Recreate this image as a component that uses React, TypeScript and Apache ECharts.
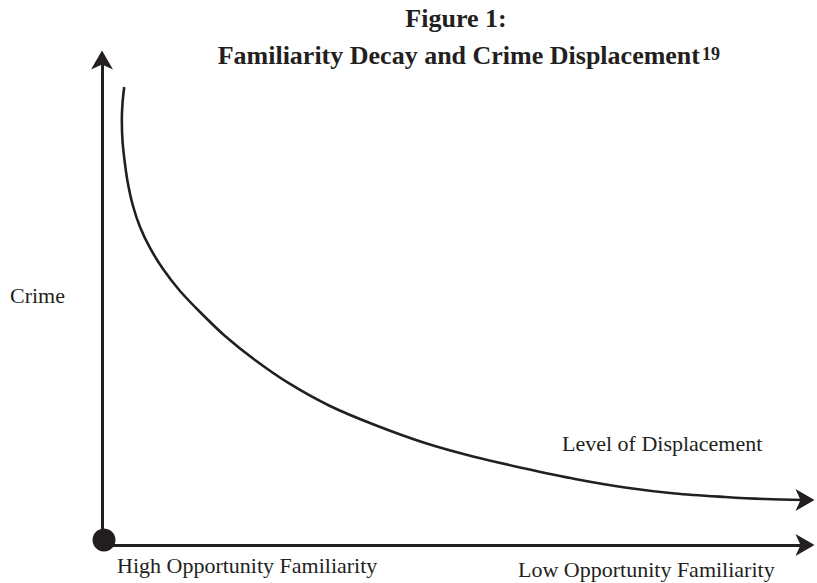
import React, { useEffect, useRef } from "react";
import * as echarts from "echarts";

// Curve (Level of Displacement), axis units 0..100
const curveX = [3.16, 2.92, 2.82, 2.93, 3.27, 3.7, 4.41, 5.41, 6.83, 8.68, 11.1, 13.94, 17.5, 21.76, 26.74, 32.43, 38.83, 45.95, 53.06, 60.17, 67.28, 74.4, 81.51, 88.62, 94.31, 100];
const curveY = [94.43, 91.13, 87.63, 83.09, 78.56, 74.43, 69.9, 65.57, 61.24, 56.91, 52.37, 48.04, 43.09, 38.14, 33.2, 28.66, 24.74, 21.03, 18.14, 15.77, 13.61, 11.86, 10.62, 9.9, 9.48, 9.28];
const origin = [0, 0];

const titleLine1 = "Figure 1:";
const titleLine2 = "Familiarity Decay and Crime Displacement";
const titleNote = "19";
const yLabel = "Crime";
const curveLabel = "Level of Displacement";
const xLabelLeft = "High Opportunity Familiarity";
const xLabelRight = "Low Opportunity Familiarity";

const INK = "#231f20";
const FONT = "'Liberation Serif', 'Times New Roman', serif";
const ARROW_UP = "path://M11,0 L22,19 L11,14 L0,19 Z";
const ARROW_RIGHT = "path://M0,0 L19,11 L0,22 L5,11 Z";

export default function App() {
  const ref = useRef<HTMLDivElement>(null);
  useEffect(() => {
    if (!ref.current) return;
    const chart = echarts.init(ref.current, undefined, { renderer: "svg" });
    const curveData = curveX.map((x, i) => [x, curveY[i]]);
    const last = curveData[curveData.length - 1];
    const axisCommon = {
      type: "value" as const,
      min: 0,
      max: 100,
      splitLine: { show: false },
      axisTick: { show: false },
      axisLabel: { show: false },
      axisLine: {
        show: true,
        symbol: ["none", ARROW_UP],
        symbolSize: [22, 19],
        lineStyle: { color: INK, width: 3 },
      },
    };
    const txt = (text: string, x: number, y: number, size: number, align: string, weight = "normal") => ({
      type: "text",
      x,
      y,
      silent: true,
      style: {
        text,
        fill: INK,
        font: `${weight} ${size}px ${FONT}`,
        textAlign: align,
        textVerticalAlign: "middle",
      },
    });
    chart.setOption({
      animation: false,
      backgroundColor: "#ffffff",
      grid: { left: 102, right: 12, top: 60, bottom: 38, containLabel: false },
      xAxis: { ...axisCommon },
      yAxis: { ...axisCommon },
      series: [
        {
          type: "line",
          data: curveData,
          smooth: 0.3,
          symbol: "none",
          lineStyle: { color: INK, width: 2.6 },
          z: 3,
        },
        {
          type: "scatter",
          data: [last],
          symbol: ARROW_RIGHT,
          symbolSize: [19, 22],
          itemStyle: { color: INK, opacity: 1 },
          z: 4,
        },
        {
          type: "scatter",
          data: [origin],
          symbol: "circle",
          symbolSize: 23,
          symbolOffset: [2, -5],
          itemStyle: { color: INK, opacity: 1 },
          z: 5,
        },
      ],
      graphic: [
        txt(titleLine1, 456, 18, 26, "center", "bold"),
        txt(titleLine2, 700, 55, 26, "right", "bold"),
        txt(titleNote, 702, 54, 18, "left", "bold"),
        txt(yLabel, 10, 295.5, 22, "left"),
        txt(curveLabel, 562, 443.5, 22, "left"),
        txt(xLabelLeft, 117, 565.5, 22, "left"),
        txt(xLabelRight, 518, 569.5, 22, "left"),
      ],
    });
    return () => chart.dispose();
  }, []);
  return (
    <div
      ref={ref}
      style={{ position: "fixed", left: 0, top: 0, width: 817, height: 583, background: "#fff" }}
    />
  );
}
